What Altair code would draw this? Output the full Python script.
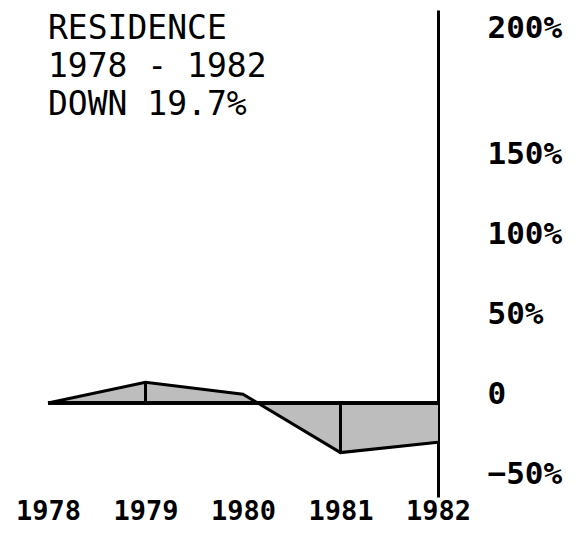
import altair as alt
import pandas as pd

# Data
years = [1978, 1979, 1980, 1981, 1982]
change = [0, 13, 5.5, -31, -24.5]
divider_years = [1979, 1981]
y_ticks = [-50, 0, 50, 100, 150, 200]
title_lines = ["RESIDENCE", "1978 - 1982", "DOWN 19.7%"]

df = pd.DataFrame({"year": years, "change": change})
div_df = df[df["year"].isin(divider_years)]
title_df = pd.DataFrame({"key": [0]})

W, H = 390, 487
FONT = "DejaVu Sans Mono"

x_enc = alt.X("year:Q",
              scale=alt.Scale(domain=[1978, 1982], nice=False, zero=False),
              axis=alt.Axis(values=years, format="d", title=None, domain=False,
                            ticks=False, grid=False, labelFont=FONT,
                            labelFontSize=27, labelFontWeight="bold",
                            labelColor="black", labelBaseline="alphabetic",
                            labelPadding=22, labelFlush=False,
                            labelOverlap=False))
y_scale = alt.Scale(domain=[-58.75, 150, 200, 210.7], range=[H, 153, 27, 0],
                    zero=False, nice=False)
y_enc = alt.Y("change:Q", scale=y_scale,
              axis=alt.Axis(orient="right", values=y_ticks, title=None,
                            grid=False, ticks=False, domain=True,
                            domainColor="black", domainWidth=3,
                            labelFont=FONT, labelFontSize=31,
                            labelFontWeight="bold", labelColor="black",
                            labelAlign="left", labelBaseline="alphabetic",
                            labelPadding=49, labelOverlap=False,
                            labelFlush=False,
                            labelExpr="datum.value == 0 ? '0' : format(datum.value, 'd') + '%'"))

area = alt.Chart(df).mark_area(color="#bdbdbd", opacity=1).encode(
    x=x_enc, y=y_enc, y2=alt.datum(0))
line = alt.Chart(df).mark_line(color="black", strokeWidth=3).encode(
    x="year:Q", y="change:Q")
dividers = alt.Chart(div_df).mark_rule(color="black", strokeWidth=3).encode(
    x="year:Q", y="change:Q", y2=alt.datum(0))
baseline = alt.Chart(df).mark_rule(color="black", strokeWidth=3).encode(
    x=alt.datum(1978), x2=alt.datum(1982), y=alt.datum(0))
title = alt.Chart(title_df).mark_text(
    font=FONT, fontSize=33, align="left", baseline="alphabetic",
    lineHeight=38, color="black").encode(
    x=alt.value(0), y=alt.value(29), text=alt.value(title_lines))

chart = alt.layer(area, line, dividers, baseline, title).properties(
    width=W, height=H,
    autosize=alt.AutoSizeParams(type="none"),
    padding={"left": 40, "top": 2, "right": 133, "bottom": 32},
    background="white",
).configure_view(stroke=None)

chart.save("out.html", embed_options={"renderer": "svg", "actions": False})
